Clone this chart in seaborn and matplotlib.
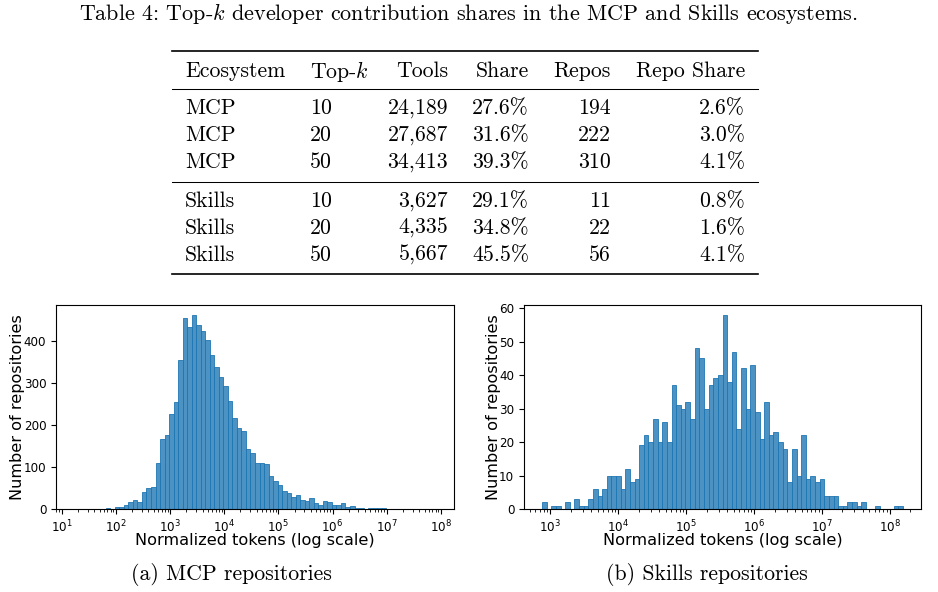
import numpy as np
import pandas as pd
import matplotlib
matplotlib.use("Agg")
import matplotlib.pyplot as plt
import seaborn as sns
from matplotlib.lines import Line2D

# ------------------------------------------
# DATA
# ------------------------------------------
table_ecosystem = ["MCP", "MCP", "MCP", "Skills", "Skills", "Skills"]
table_topk = ["10", "20", "50", "10", "20", "50"]
table_tools = ["24,189", "27,687", "34,413", "3,627", "4,335", "5,667"]
table_share = ["27.6%", "31.6%", "39.3%", "29.1%", "34.8%", "45.5%"]
table_repos = ["194", "222", "310", "11", "22", "56"]
table_repo_share = ["2.6%", "3.0%", "4.1%", "0.8%", "1.6%", "4.1%"]
table_headers = ["Ecosystem", "Top-$k$", "Tools", "Share", "Repos", "Repo Share"]

# histogram of normalized tokens, log10 bin range + counts per bin
mcp_log_range = (1.229, 7.909)
mcp_counts = [0, 0, 0, 0, 0, 0, 0, 2, 0, 5,
              5, 9, 17, 21, 17, 40, 50, 52, 110, 167,
              176, 226, 255, 355, 455, 433, 462, 438, 424, 402,
              367, 338, 314, 293, 257, 217, 193, 186, 143, 133,
              110, 110, 107, 79, 67, 57, 43, 38, 29, 33,
              21, 19, 26, 14, 10, 19, 17, 10, 10, 14,
              5, 7, 2, 2, 1, 2, 2, 2, 2, 0,
              0, 0, 0, 0, 0, 0, 0, 0, 0, 0]

skills_log_range = (2.877, 8.192)
skills_counts = [2, 0, 1, 1, 0, 2, 0, 3, 1, 1,
                 3, 6, 4, 6, 10, 10, 10, 6, 12, 8,
                 9, 19, 22, 20, 27, 20, 26, 20, 37, 31,
                 30, 32, 27, 48, 45, 30, 37, 39, 40, 58,
                 38, 47, 24, 42, 30, 43, 29, 21, 32, 22,
                 23, 20, 18, 8, 18, 10, 22, 9, 10, 8,
                 9, 4, 4, 4, 1, 1, 2, 2, 1, 2,
                 0, 0, 1, 0, 0, 0, 1, 1]

# ------------------------------------------
# FIGURE SETUP
# ------------------------------------------
W, H = 938, 592
plt.rcParams["mathtext.fontset"] = "cm"
fig = plt.figure(figsize=(W / 100, H / 100), dpi=100)

def fx(x):
    return x / W

def fy(y):
    return 1 - y / H

CM = "cmr10"
TSIZE = 15.7

# ------------------------------------------
# TABLE (booktabs style)
# ------------------------------------------
fig.text(fx(468), fy(14), "Table 4: Top-$k$ developer contribution shares in the MCP and Skills ecosystems.",
         family=CM, fontsize=15.9, ha="center", va="center")

def hrule(y, lw):
    fig.add_artist(Line2D([fx(172), fx(758)], [fy(y), fy(y)],
                          transform=fig.transFigure, color="black", lw=lw))

hrule(51, 1.2)
hrule(89, 0.75)
hrule(182, 0.75)
hrule(274, 1.2)

col_x = [185, 310, 448, 529, 611, 745]
col_ha = ["left", "left", "right", "right", "right", "right"]
columns = [table_ecosystem, table_topk, table_tools, table_share, table_repos, table_repo_share]
row_y = [108, 135, 162, 201, 228, 255]

for x, ha, head in zip(col_x, col_ha, table_headers):
    fig.text(fx(x), fy(71), head, family=CM, fontsize=TSIZE, ha=ha, va="center")

for x, ha, col in zip(col_x, col_ha, columns):
    for y, val in zip(row_y, col):
        fig.text(fx(x), fy(y), val, family=CM, fontsize=TSIZE, ha=ha, va="center")

# ------------------------------------------
# HISTOGRAMS
# ------------------------------------------
def token_hist(ax, counts, log_range, xlim, label_x):
    edges = np.linspace(log_range[0], log_range[1], len(counts) + 1)
    centers = 10 ** ((edges[:-1] + edges[1:]) / 2)
    df = pd.DataFrame({"tokens": centers, "repos": counts})
    sns.histplot(data=df, x="tokens", weights="repos", bins=list(edges),
                 log_scale=True, ax=ax, alpha=0.8,
                 edgecolor="#1f77b4", linewidth=0.6)
    ax.set_xlim(10 ** xlim[0], 10 ** xlim[1])
    # only label the decades that are inside the view
    decades = range(int(np.ceil(xlim[0])), int(np.floor(xlim[1])) + 1)
    ax.set_xticks([10.0 ** d for d in decades])
    ax.set_xlabel("Normalized tokens (log scale)", fontsize=11.6)
    ax.set_ylabel("Number of repositories", fontsize=11.6)
    ax.tick_params(labelsize=8.6)
    ax.yaxis.set_label_coords(label_x, 0.5)
    ax.xaxis.set_label_coords(0.5, -0.12)

ax1 = fig.add_axes([fx(56), fy(509), (454 - 56) / W, (509 - 305) / H])
token_hist(ax1, mcp_counts, mcp_log_range, (0.895, 8.243), -0.077)

ax2 = fig.add_axes([fx(524), fy(509), (921 - 524) / W, (509 - 305) / H])
token_hist(ax2, skills_counts, skills_log_range, (2.611, 8.458), -0.058)

fig.text(fx(231), fy(574), "(a) MCP repositories", family=CM, fontsize=TSIZE, ha="center", va="center")
fig.text(fx(707), fy(574), "(b) Skills repositories", family=CM, fontsize=TSIZE, ha="center", va="center")

fig.savefig("out.png", dpi=100)
